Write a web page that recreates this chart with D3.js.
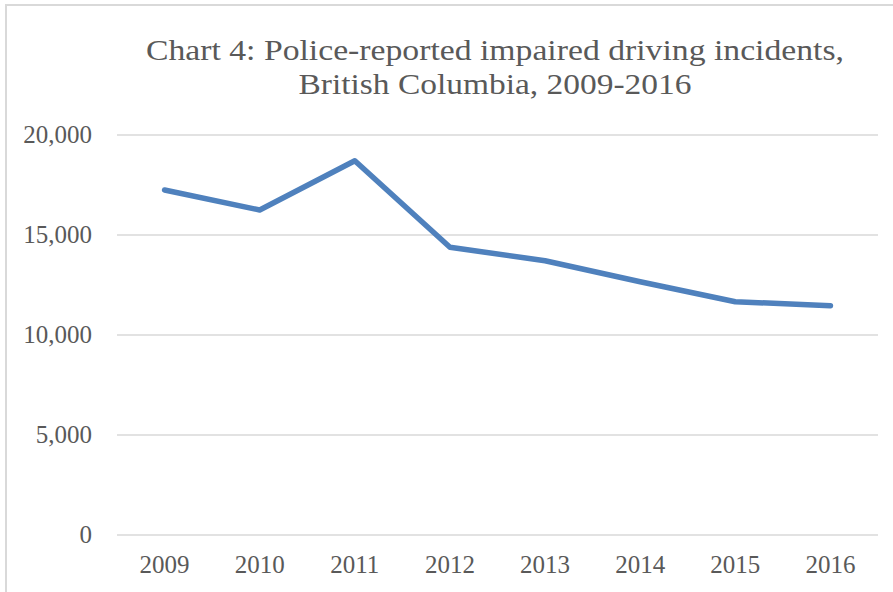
<!DOCTYPE html>
<html>
<head>
<script src="https://d3js.org/d3.v7.min.js"></script>
  <meta charset="utf-8">
  <title>Chart 4</title>
  <style>
    body { margin: 0; background: #fff; }
    text { font-family: "Liberation Serif", "DejaVu Serif", serif; fill: #595959; }
  </style>
</head>
<body>
<svg width="893" height="592"></svg>
<script>

	// data
	var years = ['2009','2010','2011','2012','2013','2014','2015','2016'];
	var incidents = [17250, 16250, 18715, 14385, 13715, 12665, 11665, 11465];
	var yTicks = [0, 5000, 10000, 15000, 20000];
	var titleLines = ['Chart 4: Police-reported impaired driving incidents,', 'British Columbia, 2009-2016'];

	var svg = d3.select('svg');

	// outer chart frame
	svg.append('rect')
		.attr('x', 6).attr('y', 5)
		.attr('width', 900).attr('height', 600)
		.attr('fill', 'none')
		.attr('stroke', '#d9d9d9')
		.attr('stroke-width', 2);

	var x = d3.scaleBand().domain(years).range([117, 878]);
	var y = d3.scaleLinear().domain([0, 20000]).range([535, 135]);

	//gridlines
	svg.selectAll('line.grid')
			.data(yTicks)
		.enter().append('line')
			.attr('class', 'grid')
			.attr('x1', 117).attr('x2', 878)
			.attr('y1', function(d) { return y(d); })
			.attr('y2', function(d) { return y(d); })
			.attr('stroke', '#d9d9d9')
			.attr('stroke-width', 1.5);

	// y labels
	var fmt = d3.format(',');
	svg.selectAll('text.ylab')
			.data(yTicks)
		.enter().append('text')
			.attr('class', 'ylab')
			.attr('x', 92)
			.attr('y', function(d) { return y(d) + 8; })
			.attr('text-anchor', 'end')
			.style('font-size', '25px')
			.text(function(d) { return fmt(d); });

	// x labels
	svg.selectAll('text.xlab')
			.data(years)
		.enter().append('text')
			.attr('class', 'xlab')
			.attr('x', function(d) { return x(d) + x.bandwidth() / 2; })
			.attr('y', 573)
			.attr('text-anchor', 'middle')
			.style('font-size', '25px')
			.text(function(d) { return d; });

	// the line
	var line = d3.line()
		.x(function(d, i) { return x(years[i]) + x.bandwidth() / 2; })
		.y(function(d) { return y(d); });

	svg.append('path')
		.datum(incidents)
		.attr('d', line)
		.attr('fill', 'none')
		.attr('stroke', '#4f81bd')
		.attr('stroke-width', 5.5)
		.attr('stroke-linecap', 'round')
		.attr('stroke-linejoin', 'round');

	// title, squeezed to the widths in the picture
	var titleWidths = [698, 393];
	svg.selectAll('text.title')
			.data(titleLines)
		.enter().append('text')
			.attr('class', 'title')
			.attr('x', 495)
			.attr('y', function(d, i) { return 60 + i * 34; })
			.attr('text-anchor', 'middle')
			.attr('textLength', function(d, i) { return titleWidths[i]; })
			.attr('lengthAdjust', 'spacingAndGlyphs')
			.style('font-size', '29px')
			.text(function(d) { return d; });

</script>
</body>
</html>
